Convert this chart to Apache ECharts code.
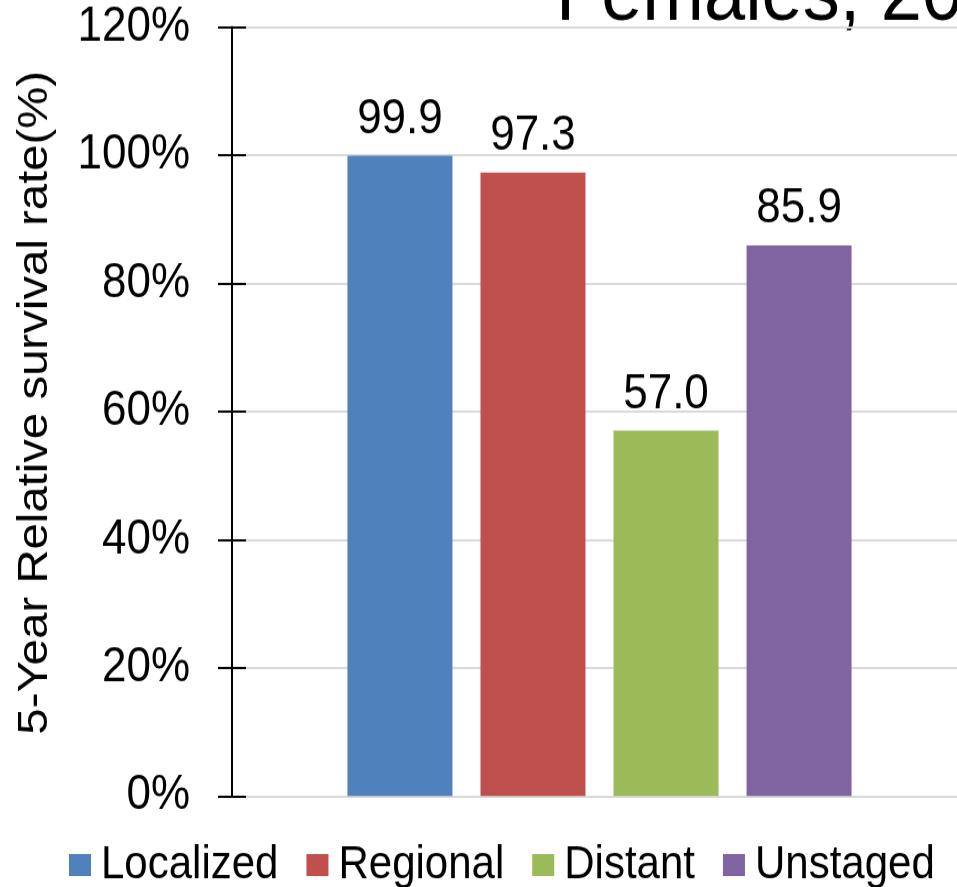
<!DOCTYPE html>
<html><head><meta charset="utf-8">
<script src="https://cdn.jsdelivr.net/npm/echarts@6/dist/echarts.min.js"></script>
<style>html,body{margin:0;padding:0;background:#fff;width:957px;height:887px}
#wrap{width:957px;height:887px;position:relative}
#c{position:absolute;left:0;top:0;width:957px;height:806px;transform:scaleY(1.1005);transform-origin:0 0}</style>
</head><body><div id="wrap"><div id="c"></div></div>
<script>
const categories = [''];
const seriesNames = ['Localized', 'Regional', 'Distant', 'Unstaged'];
const seriesValues = [99.9, 97.3, 57.0, 85.9];
const seriesColors = ['#4F81BD', '#C0504D', '#9BBB59', '#8064A2'];
const yTicks = [0, 20, 40, 60, 80, 100, 120];
const titleText = 'Females, 2010-2016';
const yAxisName = '5-Year Relative survival rate(%)';

const FONT = 'Liberation Sans, Arial, sans-serif';
const chart = echarts.init(document.getElementById('c'));
const series = seriesNames.map((n, i) => ({
  name: n, type: 'bar', data: [seriesValues[i]],
  itemStyle: { color: seriesColors[i] },
  barWidth: 105, barGap: '26.7%',
  label: { show: true, position: 'top', distance: 11, color: '#000', fontSize: 44, fontFamily: FONT,
    formatter: p => p.value.toFixed(1) }
}));
chart.setOption({
  animation: false,
  graphic: [{ type: 'text', left: 556, top: -39, style: { text: titleText, font: '74px ' + FONT, fill: '#000' } }],
  grid: { left: 242, right: 0, top: 24.5, height: 698.8, containLabel: false },
  legend: {
    data: seriesNames, left: 64, top: 760, itemWidth: 22, itemHeight: 20, itemGap: 28, icon: 'rect',
    textStyle: { fontSize: 42, fontFamily: FONT, color: '#000', padding: [0, 0, 0, 5] }
  },
  xAxis: { type: 'category', data: categories,
    axisLine: { lineStyle: { color: '#d9d9d9', width: 2 } }, axisTick: { show: false }, axisLabel: { show: false } },
  yAxis: [{
    type: 'value', min: yTicks[0], max: yTicks[yTicks.length - 1], interval: 20, offset: 10,
    name: yAxisName, nameLocation: 'middle', nameRotate: 90, nameGap: 175,
    nameTextStyle: { fontSize: 43, fontFamily: FONT, color: '#000', padding: [0, 0, 0, 16] },
    axisLine: { show: true, lineStyle: { color: '#000', width: 2 } },
    axisTick: { show: true, length: 14, lineStyle: { color: '#000', width: 2 } },
    axisLabel: { formatter: '{value}%', fontSize: 44, fontFamily: FONT, color: '#000', margin: 42 },
    splitLine: { lineStyle: { color: '#d9d9d9', width: 2 } }
  }, {
    type: 'value', position: 'left', offset: 10, min: yTicks[0], max: yTicks[yTicks.length - 1], interval: 20,
    axisLine: { show: false }, axisLabel: { show: false }, splitLine: { show: false },
    axisTick: { show: true, inside: true, length: 14, lineStyle: { color: '#000', width: 2 } }
  }],
  series
});
</script></body></html>
